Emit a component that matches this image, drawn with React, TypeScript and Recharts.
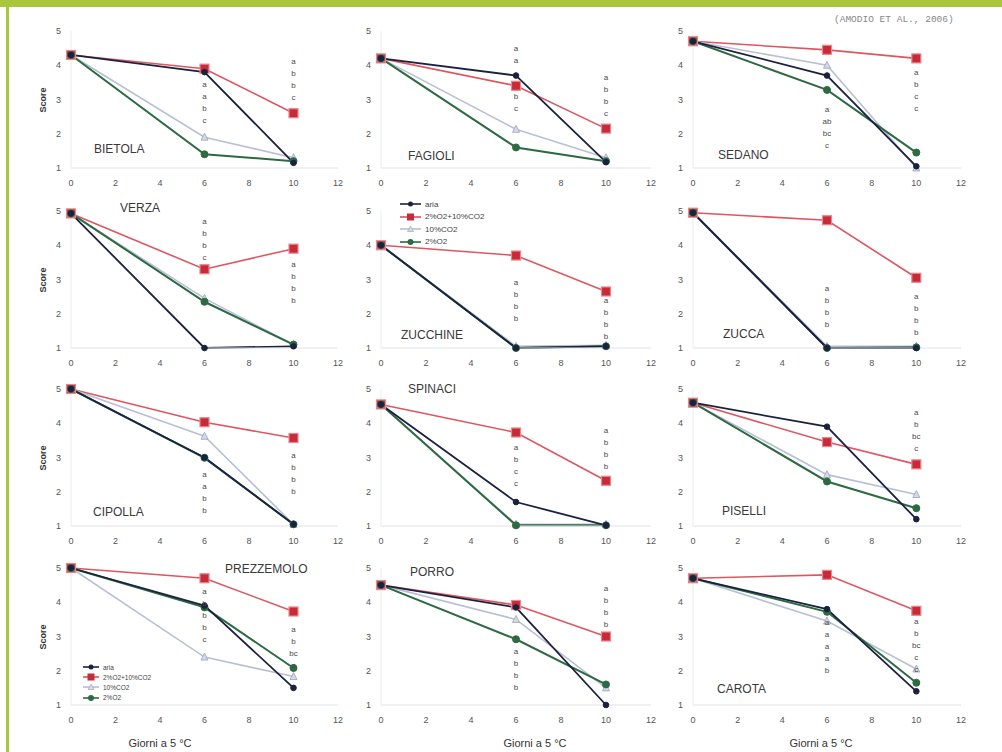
import { Line, LineChart, ReferenceDot, XAxis, YAxis } from "recharts";

// giorni di conservazione a 5 °C
const days = [0, 6, 10];
const xTicks = [0, 2, 4, 6, 8, 10, 12];
const yTicks = [1, 2, 3, 4, 5];

const crops = ["BIETOLA", "FAGIOLI", "SEDANO", "VERZA", "ZUCCHINE", "ZUCCA", "CIPOLLA", "SPINACI", "PISELLI", "PREZZEMOLO", "PORRO", "CAROTA"];

// score per ortaggio, ai giorni 0, 6, 10
const aria = [[4.3, 3.8, 1.15], [4.2, 3.7, 1.17], [4.7, 3.7, 1.05], [4.93, 1.0, 1.05], [4.0, 1.0, 1.05], [4.95, 1.0, 1.0], [5.0, 3.0, 1.05], [4.55, 1.7, 1.02], [4.6, 3.9, 1.2], [5.0, 3.9, 1.5], [4.5, 3.85, 1.0], [4.7, 3.8, 1.4]];
const mista = [[4.3, 3.9, 2.6], [4.2, 3.4, 2.15], [4.7, 4.45, 4.2], [4.93, 3.3, 3.9], [4.0, 3.7, 2.65], [4.95, 4.73, 3.05], [5.0, 4.03, 3.57], [4.55, 3.73, 2.32], [4.6, 3.45, 2.8], [5.0, 4.7, 3.73], [4.5, 3.92, 3.0], [4.7, 4.8, 3.75]];
const co2 = [[4.3, 1.9, 1.3], [4.2, 2.13, 1.3], [4.7, 4.0, 1.0], [4.93, 2.45, 1.1], [4.0, 1.05, 1.08], [4.95, 1.05, 1.05], [5.0, 3.62, 1.05], [4.55, 1.05, 1.05], [4.6, 2.5, 1.92], [5.0, 2.4, 1.83], [4.5, 3.5, 1.5], [4.7, 3.45, 2.05]];
const ossigeno = [[4.3, 1.4, 1.2], [4.2, 1.6, 1.2], [4.7, 3.28, 1.45], [4.93, 2.35, 1.1], [4.0, 1.0, 1.05], [4.95, 1.0, 1.02], [5.0, 2.99, 1.05], [4.55, 1.02, 1.02], [4.6, 2.3, 1.52], [5.0, 3.85, 2.08], [4.5, 2.92, 1.6], [4.7, 3.72, 1.65]];

// lettere di significatività
const letters6 = [["a", "a", "b", "c"], ["a", "a", "", "", "b", "c"], ["a", "ab", "bc", "c"], ["a", "b", "b", "c"], ["a", "b", "b", "b"], ["a", "b", "b", "b"], ["a", "a", "b", "b"], ["a", "b", "c", "c"], ["a", "a", "b", "b"], ["a", "b", "b", "b", "c"], ["a", "b", "b", "b"], ["a", "a", "a", "a", "b"]];
const letters10 = [["a", "b", "b", "c"], ["a", "b", "b", "c"], ["a", "b", "c", "c"], ["a", "b", "b", "b"], ["a", "b", "b", "b"], ["a", "b", "b", "b"], ["a", "b", "b", "b"], ["a", "b", "b", "b"], ["a", "b", "bc", "c"], ["a", "b", "bc", "c"], ["a", "b", "b", "b"], ["a", "b", "bc", "c", "c"]];
const lettersTop6 = [3.45, 4.5, 2.7, 4.7, 2.9, 2.75, 2.5, 3.3, 5.1, 4.3, 2.55, 3.4];
const lettersTop10 = [4.1, 3.65, 3.8, 3.45, 2.4, 2.5, 3.05, 3.8, 4.3, 3.2, 4.4, 3.45];

const seriesNames = ["aria", "2%O2+10%CO2", "10%CO2", "2%O2"];

const NAVY = "#1b2240";
const RED = "#c82a38";
const LIGHT = "#b9bfd6";
const GREEN = "#2d6a42";
const FONT = "'Liberation Sans', Arial, sans-serif";

const colLeft = [71, 381, 693];
const colWidth = [267, 270, 268];
const rowTop = [31, 211, 389, 568];
const plotH = 137;
const yAxisW = 28;
const topM = 10;
const rightM = 8;
const xAxisH = 26;

const titlePos = [
  { x: 94, y: 149 }, { x: 408, y: 156 }, { x: 718, y: 155 },
  { x: 120, y: 208 }, { x: 401, y: 335 }, { x: 723, y: 334 },
  { x: 93, y: 512 }, { x: 408, y: 389 }, { x: 722, y: 511 },
  { x: 225, y: 569 }, { x: 410, y: 572 }, { x: 717, y: 689 },
];

const roundDot = (fill: string, r: number) => (props: any) => (
  <circle key={props.index} cx={props.cx} cy={props.cy} r={r} fill={fill} stroke={fill} strokeWidth={1} />
);
const squareDot = (props: any) => (
  <rect key={props.index} x={props.cx - 4.5} y={props.cy - 4.5} width={9} height={9} fill={RED} stroke="#e9858c" strokeWidth={1.2} />
);
const triangleDot = (props: any) => (
  <polygon key={props.index} points={`${props.cx},${props.cy - 4} ${props.cx - 3.5},${props.cy + 3} ${props.cx + 3.5},${props.cy + 3}`} fill="#d6d9e6" stroke="#9aa1bb" strokeWidth={0.8} />
);

function LetterStack(props: any) {
  const vb = props.viewBox || {};
  const letters: string[] = props.letters;
  return (
    <g>
      {letters.map((l, i) => (
        <text key={i} x={vb.x} y={vb.y + i * 12} textAnchor="middle" dominantBaseline="central" fontSize={8} fill="#4a4a4a" stroke="none" fontFamily={FONT}>
          {l}
        </text>
      ))}
    </g>
  );
}

function LegendIcon({ idx, w }: { idx: number; w: number }) {
  const cy = 5;
  const cx = w / 2;
  const colors = [NAVY, "#d9545e", LIGHT, GREEN];
  return (
    <svg width={w} height={10} style={{ display: "block" }}>
      <line x1={0} y1={cy} x2={w} y2={cy} stroke={colors[idx]} strokeWidth={1.6} />
      {idx === 0 && <circle cx={cx} cy={cy} r={2.5} fill={NAVY} />}
      {idx === 1 && <rect x={cx - 3.5} y={cy - 3.5} width={7} height={7} fill={RED} />}
      {idx === 2 && <polygon points={`${cx},${cy - 3} ${cx - 3},${cy + 2.5} ${cx + 3},${cy + 2.5}`} fill="#d6d9e6" stroke="#9aa1bb" strokeWidth={0.6} />}
      {idx === 3 && <circle cx={cx} cy={cy} r={3} fill={GREEN} />}
    </svg>
  );
}

function SeriesLegend({ left, top, rowH, fontSize, iconW }: { left: number; top: number; rowH: number; fontSize: number; iconW: number }) {
  return (
    <div style={{ position: "absolute", left, top, fontFamily: FONT, fontSize, color: "#444" }}>
      {seriesNames.map((n, i) => (
        <div key={n} style={{ display: "flex", alignItems: "center", height: rowH }}>
          <LegendIcon idx={i} w={iconW} />
          <span style={{ marginLeft: 4, whiteSpace: "nowrap" }}>{n}</span>
        </div>
      ))}
    </div>
  );
}

function Panel({ p }: { p: number }) {
  const col = p % 3;
  const row = Math.floor(p / 3);
  const data = days.map((d, i) => ({
    day: d,
    aria: aria[p][i],
    mista: mista[p][i],
    co2: co2[p][i],
    o2: ossigeno[p][i],
  }));
  const w = yAxisW + colWidth[col] + rightM;
  const h = topM + plotH + xAxisH;
  const tick = { fontSize: 9, fill: "#555", fontFamily: FONT };
  return (
    <div style={{ position: "absolute", left: colLeft[col] - yAxisW, top: rowTop[row] - topM }}>
      <LineChart width={w} height={h} data={data} margin={{ top: topM, right: rightM, bottom: 0, left: 0 }}>
        <XAxis dataKey="day" type="number" domain={[0, 12]} ticks={xTicks} height={xAxisH} tickLine={false} tickSize={4} tickMargin={8} axisLine={{ stroke: "#e2e2e2" }} tick={tick} interval={0} />
        <YAxis type="number" domain={[1, 5]} ticks={yTicks} width={yAxisW} tickLine={false} tickSize={6} tickMargin={4} axisLine={{ stroke: "#ececec" }} tick={tick} interval={0} />
        <Line dataKey="mista" name={seriesNames[1]} stroke="#dd5660" strokeWidth={1.6} dot={squareDot} isAnimationActive={false} />
        <Line dataKey="co2" name={seriesNames[2]} stroke={LIGHT} strokeWidth={1.6} dot={triangleDot} isAnimationActive={false} />
        <Line dataKey="o2" name={seriesNames[3]} stroke={GREEN} strokeWidth={2} dot={roundDot(GREEN, 3.5)} isAnimationActive={false} />
        <Line dataKey="aria" name={seriesNames[0]} stroke={NAVY} strokeWidth={1.8} dot={roundDot(NAVY, 2.8)} isAnimationActive={false} />
        <ReferenceDot x={6} y={lettersTop6[p]} r={0} fill="none" stroke="none" label={(lp: any) => <LetterStack viewBox={lp.viewBox} letters={letters6[p]} />} />
        <ReferenceDot x={10} y={lettersTop10[p]} r={0} fill="none" stroke="none" label={(lp: any) => <LetterStack viewBox={lp.viewBox} letters={letters10[p]} />} />
      </LineChart>
    </div>
  );
}

export default function App() {
  const green = "#a9c63d";
  return (
    <div style={{ position: "absolute", left: 0, top: 0, width: 1002, height: 752, background: "#fff", overflow: "hidden", fontFamily: FONT }}>
      <div style={{ position: "absolute", left: 0, top: 0, width: 1002, height: 7, background: green }} />
      <div style={{ position: "absolute", left: 6, top: 0, width: 2.5, height: 752, background: green }} />
      <div style={{ position: "absolute", left: 834, top: 14, fontFamily: "'Liberation Mono', 'DejaVu Sans Mono', monospace", fontSize: 9.5, color: "#888", whiteSpace: "nowrap" }}>
        (AMODIO ET AL., 2006)
      </div>
      {crops.map((c, p) => (
        <Panel key={c} p={p} />
      ))}
      {crops.map((c, p) => (
        <div key={"t" + c} style={{ position: "absolute", left: titlePos[p].x, top: titlePos[p].y - 8, fontSize: 12, color: "#3a3a3a", whiteSpace: "nowrap", lineHeight: "16px" }}>
          {c}
        </div>
      ))}
      {rowTop.map((t) => (
        <div key={"s" + t} style={{ position: "absolute", left: 43 - 20, top: t + plotH / 2 - 6, width: 40, textAlign: "center", fontSize: 9, fontWeight: "bold", color: "#333", transform: "rotate(-90deg)", lineHeight: "12px" }}>
          Score
        </div>
      ))}
      {[160, 535, 821].map((cx) => (
        <div key={"x" + cx} style={{ position: "absolute", left: cx - 50, top: 736, width: 100, textAlign: "center", fontSize: 11, color: "#333", lineHeight: "14px" }}>
          Giorni a 5 °C
        </div>
      ))}
      <SeriesLegend left={400} top={198} rowH={12.5} fontSize={8} iconW={21} />
      <SeriesLegend left={83} top={662} rowH={10.2} fontSize={6.5} iconW={16} />
    </div>
  );
}
